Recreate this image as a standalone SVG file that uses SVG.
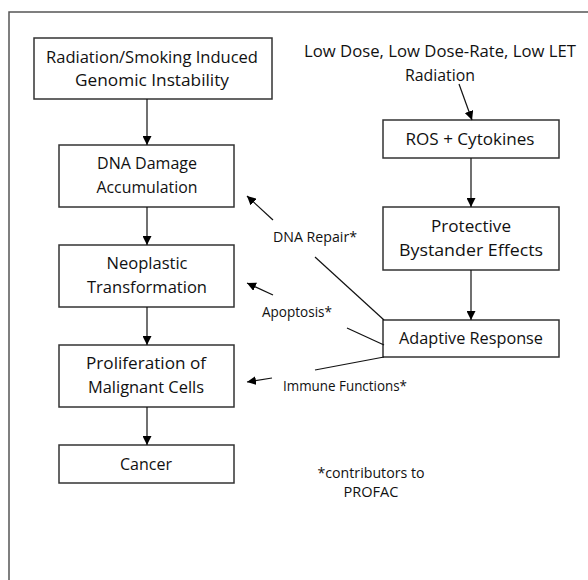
<svg xmlns="http://www.w3.org/2000/svg" width="588" height="580" viewBox="0 0 588 580">
<defs>
<marker id="ah" viewBox="0 0 10 10" refX="10" refY="5" markerWidth="9" markerHeight="9" markerUnits="userSpaceOnUse" orient="auto">
<path d="M0,0 L10,5 L0,10 Z" fill="#000"/>
</marker>
<style>
.box{fill:#fff;stroke:#333;stroke-width:1.5}
.t{font-family:"Open Sans","DejaVu Sans",sans-serif;font-size:17px;fill:#111;text-anchor:middle}
.s{font-family:"Open Sans","DejaVu Sans",sans-serif;font-size:14.5px;fill:#111;text-anchor:middle}
.c{stroke:#111;stroke-width:1.2;fill:none}
.a{stroke:#111;stroke-width:1.2;fill:none;marker-end:url(#ah)}
</style>
</defs>
<rect width="588" height="580" fill="#fff"/>
<path d="M9,580 L9,12 L588,12" fill="none" stroke="#555" stroke-width="1.5"/>

<g id="genomic">
<rect class="box" x="34" y="38" width="238" height="61"/>
<text class="t" x="152" y="63" textLength="212" lengthAdjust="spacingAndGlyphs">Radiation/Smoking Induced</text>
<text class="t" x="152" y="86" textLength="154" lengthAdjust="spacingAndGlyphs">Genomic Instability</text>
</g>
<g id="dna">
<rect class="box" x="59" y="145" width="175" height="62"/>
<text class="t" x="147" y="169" textLength="100" lengthAdjust="spacingAndGlyphs">DNA Damage</text>
<text class="t" x="147" y="193" textLength="101" lengthAdjust="spacingAndGlyphs">Accumulation</text>
</g>
<g id="neoplastic">
<rect class="box" x="59" y="245" width="175" height="62"/>
<text class="t" x="147" y="269" textLength="81" lengthAdjust="spacingAndGlyphs">Neoplastic</text>
<text class="t" x="147" y="293" textLength="120" lengthAdjust="spacingAndGlyphs">Transformation</text>
</g>
<g id="proliferation">
<rect class="box" x="59" y="345" width="175" height="62"/>
<text class="t" x="146" y="369" textLength="120" lengthAdjust="spacingAndGlyphs">Proliferation of</text>
<text class="t" x="146" y="393" textLength="116" lengthAdjust="spacingAndGlyphs">Malignant Cells</text>
</g>
<g id="cancer">
<rect class="box" x="59" y="445" width="175" height="38"/>
<text class="t" x="146" y="470" textLength="52" lengthAdjust="spacingAndGlyphs">Cancer</text>
</g>
<g id="lowdose">
<text class="t" x="440" y="57" textLength="272" lengthAdjust="spacingAndGlyphs">Low Dose, Low Dose-Rate, Low LET</text>
<text class="t" x="440" y="81" textLength="70" lengthAdjust="spacingAndGlyphs">Radiation</text>
</g>
<g id="ros">
<rect class="box" x="383" y="120" width="176" height="38"/>
<text class="t" x="470" y="145" textLength="129" lengthAdjust="spacingAndGlyphs">ROS + Cytokines</text>
</g>
<g id="bystander">
<rect class="box" x="383" y="207" width="176" height="63"/>
<text class="t" x="471" y="232" textLength="80" lengthAdjust="spacingAndGlyphs">Protective</text>
<text class="t" x="471" y="256" textLength="144" lengthAdjust="spacingAndGlyphs">Bystander Effects</text>
</g>
<g id="adaptive">
<rect class="box" x="383" y="320" width="176" height="37"/>
<text class="t" x="471" y="344" textLength="144" lengthAdjust="spacingAndGlyphs">Adaptive Response</text>
</g>
<g id="labels">
<text class="s" x="315" y="242" textLength="84" lengthAdjust="spacingAndGlyphs">DNA Repair*</text>
<text class="s" x="297" y="317" textLength="70" lengthAdjust="spacingAndGlyphs">Apoptosis*</text>
<text class="s" x="345" y="391" textLength="124" lengthAdjust="spacingAndGlyphs">Immune Functions*</text>
<text class="s" x="371" y="478" textLength="107" lengthAdjust="spacingAndGlyphs">*contributors to</text>
<text class="s" x="371" y="497" textLength="55" lengthAdjust="spacingAndGlyphs">PROFAC</text>
</g>
<g id="connectors">
<line class="a" x1="147" y1="99" x2="147" y2="145"/>
<line class="a" x1="147" y1="207" x2="147" y2="245"/>
<line class="a" x1="147" y1="307" x2="147" y2="345"/>
<line class="a" x1="147" y1="407" x2="147" y2="445"/>
<line class="a" x1="459" y1="84" x2="472" y2="120"/>
<line class="a" x1="471" y1="158" x2="471" y2="207"/>
<line class="a" x1="471" y1="270" x2="471" y2="320"/>
<line class="a" x1="273" y1="220" x2="247" y2="196"/>
<line class="a" x1="273" y1="295" x2="247" y2="283"/>
<line class="a" x1="272" y1="378" x2="247" y2="382"/>
<line class="c" x1="315" y1="257" x2="384" y2="320"/>
<line class="c" x1="347" y1="328" x2="384" y2="345"/>
<line class="c" x1="315" y1="370" x2="384" y2="357"/>
</g>
</svg>
